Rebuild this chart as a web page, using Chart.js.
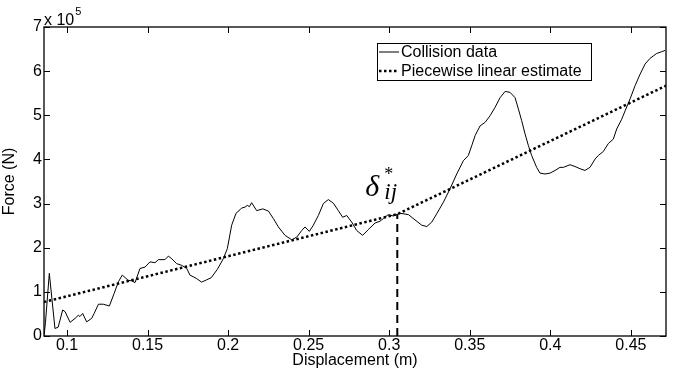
<!DOCTYPE html>
<html>
<head>
<meta charset="utf-8">
<script src="https://cdn.jsdelivr.net/npm/chart.js@4.4.1/dist/chart.umd.min.js"></script>
<style>
  html, body { margin: 0; padding: 0; background: #fff; }
  #wrap { width: 677px; height: 374px; }
</style>
</head>
<body>
<div id="wrap"><canvas id="chartCanvas" width="677" height="374"></canvas></div>
<script>
// Collision data (displacement in m, force in 1e5 N)
const collisionDisp = [
  0.0857, 0.0866, 0.0890, 0.0925, 0.0945, 0.0973, 0.0988, 0.1019, 0.1050, 0.1070,
  0.1080, 0.1097, 0.1122, 0.1153, 0.1168, 0.1195, 0.1225, 0.1263, 0.1292, 0.1319,
  0.1343, 0.1380, 0.1402, 0.1422, 0.1453, 0.1484, 0.1515, 0.1546, 0.1567, 0.1608,
  0.1629, 0.1650, 0.1680, 0.1712, 0.1743, 0.1763, 0.1805, 0.1835, 0.1865, 0.1895,
  0.1933, 0.1970, 0.1995, 0.2022, 0.2049, 0.2074, 0.2084, 0.2105, 0.2119, 0.2132,
  0.2146, 0.2177, 0.2215, 0.2250, 0.2281, 0.2312, 0.2353, 0.2395, 0.2426, 0.2457,
  0.2477, 0.2504, 0.2529, 0.2560, 0.2591, 0.2622, 0.2653, 0.2684, 0.2711, 0.2736,
  0.2767, 0.2798, 0.2835, 0.2870, 0.2912, 0.2943, 0.2963, 0.2994, 0.3025, 0.3067,
  0.3119, 0.3160, 0.3202, 0.3233, 0.3264, 0.3295, 0.3336, 0.3377, 0.3419, 0.3460,
  0.3491, 0.3512, 0.3533, 0.3564, 0.3595, 0.3626, 0.3657, 0.3688, 0.3719, 0.3750,
  0.3781, 0.3802, 0.3822, 0.3843, 0.3864, 0.3884, 0.3915, 0.3936, 0.3967, 0.3998,
  0.4029, 0.4060, 0.4081, 0.4122, 0.4153, 0.4184, 0.4215, 0.4246, 0.4278, 0.4298,
  0.4329, 0.4360, 0.4391, 0.4412, 0.4443, 0.4464, 0.4495, 0.4526, 0.4557, 0.4588,
  0.4619, 0.4660, 0.4691, 0.4712
];
const collisionForce = [
  0.00, 0.30, 1.42, 0.17, 0.20, 0.59, 0.55, 0.31, 0.40, 0.47,
  0.44, 0.51, 0.32, 0.40, 0.51, 0.72, 0.72, 0.68, 0.96, 1.23,
  1.38, 1.26, 1.25, 1.21, 1.53, 1.56, 1.68, 1.66, 1.73, 1.73,
  1.81, 1.75, 1.64, 1.60, 1.53, 1.38, 1.30, 1.22, 1.27, 1.32,
  1.51, 1.75, 1.98, 2.51, 2.78, 2.86, 2.90, 2.92, 2.96, 2.93,
  3.02, 2.84, 2.88, 2.83, 2.66, 2.47, 2.28, 2.18, 2.24, 2.39,
  2.47, 2.37, 2.51, 2.73, 3.00, 3.09, 3.01, 2.84, 2.69, 2.73,
  2.58, 2.39, 2.28, 2.41, 2.56, 2.60, 2.66, 2.75, 2.72, 2.78,
  2.75, 2.63, 2.51, 2.48, 2.58, 2.77, 3.03, 3.33, 3.67, 3.97,
  4.09, 4.31, 4.54, 4.76, 4.84, 4.99, 5.18, 5.40, 5.54, 5.52,
  5.40, 5.14, 4.88, 4.58, 4.31, 4.09, 3.82, 3.69, 3.67, 3.69,
  3.75, 3.82, 3.82, 3.88, 3.84, 3.79, 3.75, 3.82, 4.01, 4.09,
  4.18, 4.36, 4.46, 4.69, 4.91, 5.10, 5.37, 5.67, 5.93, 6.16,
  6.29, 6.40, 6.44, 6.47
];

// Piecewise linear estimate, breakpoint at delta*_ij
const estimateDisp = [0.0857, 0.305, 0.4718];
const estimateForce = [0.77, 2.76, 5.67];
const breakDisp = [0.305, 0.305];
const breakForce = [0, 2.76];

// Axis ticks
const xTicks = [0.1, 0.15, 0.2, 0.25, 0.3, 0.35, 0.4, 0.45];
const yTicks = [0, 1, 2, 3, 4, 5, 6, 7];
const xMin = 0.0857, xMax = 0.4718;

const FONT = '"Liberation Sans", Arial, sans-serif';

function toPoints(xs, ys) {
  return xs.map((x, i) => ({ x: x, y: ys[i] }));
}

// Box around the plot and MATLAB style inward ticks
const framePlugin = {
  id: "frame",
  afterDraw(c) {
    const { ctx, chartArea: a } = c;
    const xs = c.scales.x, ys = c.scales.y;
    ctx.save();
    ctx.strokeStyle = "#000";
    ctx.lineWidth = 1.3;
    ctx.strokeRect(a.left, a.top, a.right - a.left, a.bottom - a.top);
    ctx.lineWidth = 1;
    ctx.beginPath();
    xTicks.forEach((v) => {
      const px = Math.round(xs.getPixelForValue(v)) + 0.5;
      ctx.moveTo(px, a.bottom); ctx.lineTo(px, a.bottom - 6);
      ctx.moveTo(px, a.top); ctx.lineTo(px, a.top + 6);
    });
    yTicks.forEach((v) => {
      const py = Math.round(ys.getPixelForValue(v)) + 0.5;
      ctx.moveTo(a.left, py); ctx.lineTo(a.left + 6, py);
      ctx.moveTo(a.right, py); ctx.lineTo(a.right - 6, py);
    });
    ctx.stroke();

    // exponent label
    ctx.fillStyle = "#000";
    ctx.textBaseline = "alphabetic";
    ctx.font = "16px " + FONT;
    ctx.fillText("x 10", a.left, a.top - 2);
    const w = ctx.measureText("x 10").width;
    ctx.font = "11px " + FONT;
    ctx.fillText("5", a.left + w + 1, a.top - 12);

    // delta*_ij label next to the breakpoint
    const bx = xs.getPixelForValue(estimateDisp[1]);
    const by = ys.getPixelForValue(estimateForce[1]);
    ctx.font = 'italic 30px "Liberation Serif", serif';
    ctx.fillText("\u03b4", bx - 32, by - 18);
    ctx.font = '18px "Liberation Serif", serif';
    ctx.fillText("*", bx - 13, by - 34);
    ctx.font = 'italic 23px "Liberation Serif", serif';
    ctx.fillText("ij", bx - 13, by - 15);

    // legend box
    const lx = a.right - 289, lr = a.right - 75;
    const lt = a.top + 16, lb = a.top + 53;
    ctx.lineWidth = 1;
    ctx.strokeRect(lx + 0.5, lt + 0.5, lr - lx, lb - lt);
    ctx.font = "16px " + FONT;
    ctx.textBaseline = "middle";
    const rows = [lt + 9, lt + 28];
    c.data.datasets.slice(0, 2).forEach((ds, i) => {
      ctx.beginPath();
      ctx.strokeStyle = "#000";
      ctx.lineWidth = ds.borderWidth;
      ctx.setLineDash(ds.borderDash || []);
      ctx.moveTo(lx + 2, rows[i]);
      ctx.lineTo(lx + 22, rows[i]);
      ctx.stroke();
      ctx.setLineDash([]);
      ctx.fillText(ds.label, lx + 24, rows[i] + 1);
    });
    ctx.restore();
  },
};

const ctx = document.getElementById("chartCanvas").getContext("2d");
const chart = new Chart(ctx, {
  type: "scatter",
  data: {
    datasets: [
      {
        label: "Collision data",
        data: toPoints(collisionDisp, collisionForce),
        showLine: true,
        borderColor: "#000",
        borderWidth: 1,
        pointRadius: 0,
        tension: 0,
      },
      {
        label: "Piecewise linear estimate",
        data: toPoints(estimateDisp, estimateForce),
        showLine: true,
        borderColor: "#000",
        borderWidth: 2.5,
        borderDash: [2.5, 2.5],
        pointRadius: 0,
      },
      {
        label: "breakpoint",
        data: toPoints(breakDisp, breakForce),
        showLine: true,
        borderColor: "#000",
        borderWidth: 2,
        borderDash: [8, 5],
        pointRadius: 0,
      },
    ],
  },
  options: {
    responsive: false,
    animation: false,
    layout: { padding: { top: 27, right: 11, left: 0, bottom: 0 } },
    plugins: {
      legend: { display: false },
      tooltip: { enabled: false },
    },
    scales: {
      x: {
        type: "linear",
        min: xMin,
        max: xMax,
        afterBuildTicks: (s) => { s.ticks = xTicks.map((v) => ({ value: v })); },
        afterFit: (s) => { s.height = 38; },
        grid: { display: false, drawTicks: false },
        border: { display: false },
        ticks: {
          padding: 0,
          color: "#000",
          font: { family: FONT, size: 16 },
          maxRotation: 0,
          callback: (v) => String(v),
        },
        title: {
          display: true,
          text: "Displacement (m)",
          color: "#000",
          font: { family: FONT, size: 16 },
          padding: { top: 0, bottom: 4 },
        },
      },
      y: {
        min: 0,
        max: 7,
        afterBuildTicks: (s) => { s.ticks = yTicks.map((v) => ({ value: v })); },
        afterFit: (s) => { s.width = 44; },
        grid: { display: false, drawTicks: false },
        border: { display: false },
        ticks: {
          padding: 2,
          color: "#000",
          font: { family: FONT, size: 16 },
        },
        title: {
          display: true,
          text: "Force (N)",
          color: "#000",
          font: { family: FONT, size: 16 },
          padding: { top: 0, bottom: 0 },
        },
      },
    },
  },
  plugins: [framePlugin],
});
</script>
</body>
</html>
